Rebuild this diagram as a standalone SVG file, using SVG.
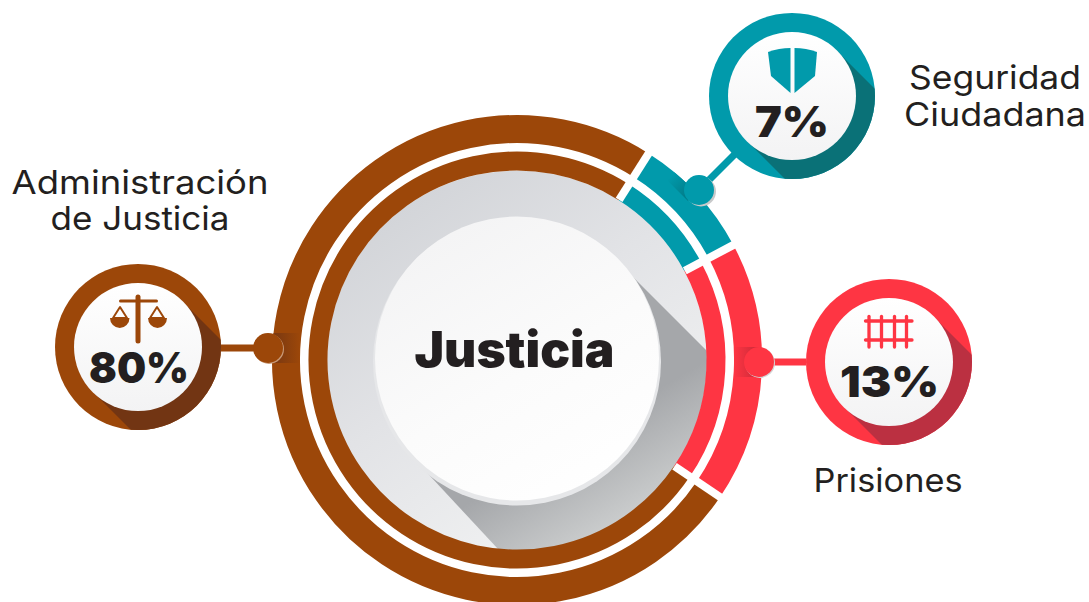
<svg xmlns="http://www.w3.org/2000/svg" width="1089" height="602" viewBox="0 0 1089 602">
<style>
.lb{font-family:Inter,"Liberation Sans",sans-serif;font-size:33px;font-weight:400;fill:#231f20;text-anchor:middle}
.pc{font-family:Inter,"Liberation Sans",sans-serif;font-size:43px;font-weight:900;fill:#231f20}
.sep{stroke:#fff;stroke-width:8;fill:none}
.brown{fill:#9c4709}.teal{fill:#019aab}.red{fill:#fe3543}
.ring{fill:none;stroke-width:28}
.ring2{fill:none;stroke-width:19}
</style>
<defs>
<linearGradient id="gd" x1="0.2" y1="0.1" x2="0.7" y2="0.8"><stop offset="0" stop-color="#d3d5d9"/><stop offset="0.5" stop-color="#e2e3e6"/><stop offset="1" stop-color="#eeeff0"/></linearGradient>
<linearGradient id="gs" gradientUnits="userSpaceOnUse" x1="590" y1="430" x2="650" y2="530"><stop offset="0" stop-color="#a5a7aa"/><stop offset="1" stop-color="#d3d5d5"/></linearGradient>
<linearGradient id="gw" x1="0.2" y1="0" x2="0.8" y2="1"><stop offset="0" stop-color="#f3f3f4"/><stop offset="0.55" stop-color="#fbfbfb"/><stop offset="1" stop-color="#fff"/></linearGradient>
<linearGradient id="gn" x1="0" y1="0" x2="0" y2="1"><stop offset="0" stop-color="#fff"/><stop offset="1" stop-color="#f3f3f4"/></linearGradient>
<linearGradient id="sb" x1="0" y1="0" x2="1" y2="0"><stop offset="0" stop-color="#723513"/><stop offset="1" stop-color="#9c4709"/></linearGradient>
<linearGradient id="sr" x1="1" y1="0" x2="0" y2="0"><stop offset="0" stop-color="#c92a38"/><stop offset="1" stop-color="#fe3543"/></linearGradient>
<linearGradient id="st" gradientUnits="userSpaceOnUse" x1="699" y1="190" x2="678" y2="169"><stop offset="0" stop-color="#017884"/><stop offset="1" stop-color="#019aab"/></linearGradient>
<clipPath id="cd"><circle cx="517" cy="360.500" r="190"/></clipPath>
<clipPath id="ct"><circle cx="792" cy="96" r="83"/></clipPath>
<clipPath id="cb"><circle cx="138" cy="347" r="83"/></clipPath>
<clipPath id="cr"><circle cx="889" cy="362" r="83"/></clipPath>
<clipPath id="co"><path clip-rule="evenodd" d="M272 360a245 245 0 1 0 490 0a245 245 0 1 0 -490 0ZM300 360a217 217 0 1 0 434 0a217 217 0 1 0 -434 0Z"/></clipPath>
</defs>
<g id="center-disc">
<circle cx="517" cy="360.500" r="190" fill="url(#gd)"/>
<polygon clip-path="url(#cd)" points="630,274 780,424 640,691 498,549 418,463" fill="url(#gs)"/>
<circle cx="517" cy="361.500" r="144" fill="#e6e7e9"/>
<circle cx="517" cy="358.500" r="142" fill="url(#gw)"/>
<text x="514.500" y="367" textLength="200" lengthAdjust="spacingAndGlyphs" font-family="Inter,'Liberation Sans',sans-serif" font-size="49" font-weight="900" fill="#231f20" text-anchor="middle">Justicia</text>
</g>
<g id="rings">
<path class="ring" stroke="#9c4709" d="M641.100 165.200A231 231 0 1 0 708.500 489.200"/>
<path class="ring2" stroke="#9c4709" d="M623.900 192.200A199 199 0 1 0 682 471.300"/>
<path class="ring" stroke="#019aab" d="M641.100 165.200A231 231 0 0 1 721 251.500"/>
<path class="ring" stroke="#fe3543" d="M721 251.500A231 231 0 0 1 708.500 489.200"/>
<path class="ring2" stroke="#019aab" d="M623.900 192.200A199 199 0 0 1 692.700 266.600"/>
<path class="ring2" stroke="#fe3543" d="M692.700 266.600A199 199 0 0 1 682 471.300"/>
<line class="sep" x1="619.100" y1="199.800" x2="650.200" y2="150.800"/>
<line class="sep" x1="684.800" y1="270.800" x2="736" y2="243.600"/>
<line class="sep" x1="674.500" y1="466.200" x2="722.600" y2="498.700"/>
</g>
<g id="connectors">
<g clip-path="url(#co)">
<rect x="268" y="333" width="32" height="30" fill="url(#sb)"/>
<rect x="734" y="347" width="25" height="30" fill="url(#sr)"/>
<polygon points="688,201 710,179 689,158 667,180" fill="url(#st)"/>
</g>
<line x1="221" y1="348" x2="268" y2="348" stroke="#9c4709" stroke-width="7"/>
<line x1="759" y1="362" x2="806" y2="362" stroke="#fe3543" stroke-width="7"/>
<line x1="699" y1="190" x2="737" y2="152" stroke="#019aab" stroke-width="7"/>
<circle cx="701" cy="191.500" r="15" fill="#c8c9ca"/>
<circle cx="699" cy="190" r="15" fill="#019aab"/>
<circle cx="269" cy="349" r="15" fill="#c99a78"/>
<circle cx="268" cy="348" r="15" fill="#9c4709"/>
<circle cx="760" cy="363" r="15" fill="#d4d4d5"/>
<circle cx="759" cy="362" r="15" fill="#fe3543"/>
</g>
<g id="node-seguridad">
<circle class="teal" cx="792" cy="96" r="83"/>
<polygon clip-path="url(#ct)" points="837,51 900,114 900,200 806,200 747,141" fill="#0a7177"/>
<circle cx="792" cy="96" r="64" fill="url(#gn)"/>
<path class="teal" d="M768 52Q779 48 790.500 48V93L771 76Z"/>
<path class="teal" d="M794.500 48Q806 48 817 52L815 76L794.500 93Z"/>
<text class="pc" x="755" y="137" textLength="74" lengthAdjust="spacingAndGlyphs">7%</text>
<text class="lb" x="995" y="89" textLength="172" lengthAdjust="spacingAndGlyphs">Seguridad</text>
<text class="lb" x="995" y="125.500" textLength="182" lengthAdjust="spacingAndGlyphs">Ciudadana</text>
</g>
<g id="node-administracion">
<circle class="brown" cx="138" cy="347" r="83"/>
<polygon clip-path="url(#cb)" points="183,302 246,365 246,451 152,451 93,392" fill="#723513"/>
<circle cx="138" cy="347" r="64" fill="url(#gn)"/>
<g stroke="#9c4709" stroke-linecap="round" fill="none">
<line x1="138" y1="297" x2="138" y2="341" stroke-width="5"/>
<line x1="120.500" y1="301" x2="156.500" y2="301" stroke-width="3"/>
<path d="M120 307L113 318H127Z" stroke-width="2" stroke-linejoin="round"/>
<path d="M157 307L150 318H164Z" stroke-width="2" stroke-linejoin="round"/>
</g>
<path class="brown" d="M110 318H129.500A9.750 10 0 0 1 110 318Z"/>
<path class="brown" d="M148 318H167A9.500 10 0 0 1 148 318Z"/>
<text class="pc" x="89" y="383" textLength="100" lengthAdjust="spacingAndGlyphs">80%</text>
<text class="lb" x="140" y="194" textLength="257" lengthAdjust="spacingAndGlyphs">Administración</text>
<text class="lb" x="140" y="230" textLength="179" lengthAdjust="spacingAndGlyphs">de Justicia</text>
</g>
<g id="node-prisiones">
<circle class="red" cx="889" cy="362" r="83"/>
<polygon clip-path="url(#cr)" points="934,317 997,380 997,466 903,466 844,407" fill="#bb3041"/>
<circle cx="889" cy="362" r="64" fill="url(#gn)"/>
<g stroke="#fe3543" stroke-width="3.300" stroke-linecap="round">
<line x1="869" y1="316.500" x2="869" y2="347"/>
<line x1="881.500" y1="316.500" x2="881.500" y2="347"/>
<line x1="894.500" y1="316.500" x2="894.500" y2="347"/>
<line x1="906.500" y1="316.500" x2="906.500" y2="347"/>
<line x1="865.500" y1="321" x2="912" y2="321"/>
<line x1="865.500" y1="340" x2="912" y2="340"/>
</g>
<text class="pc" x="840" y="397" textLength="99" lengthAdjust="spacingAndGlyphs">13%</text>
<text class="lb" x="888" y="492" textLength="149" lengthAdjust="spacingAndGlyphs">Prisiones</text>
</g>
</svg>
